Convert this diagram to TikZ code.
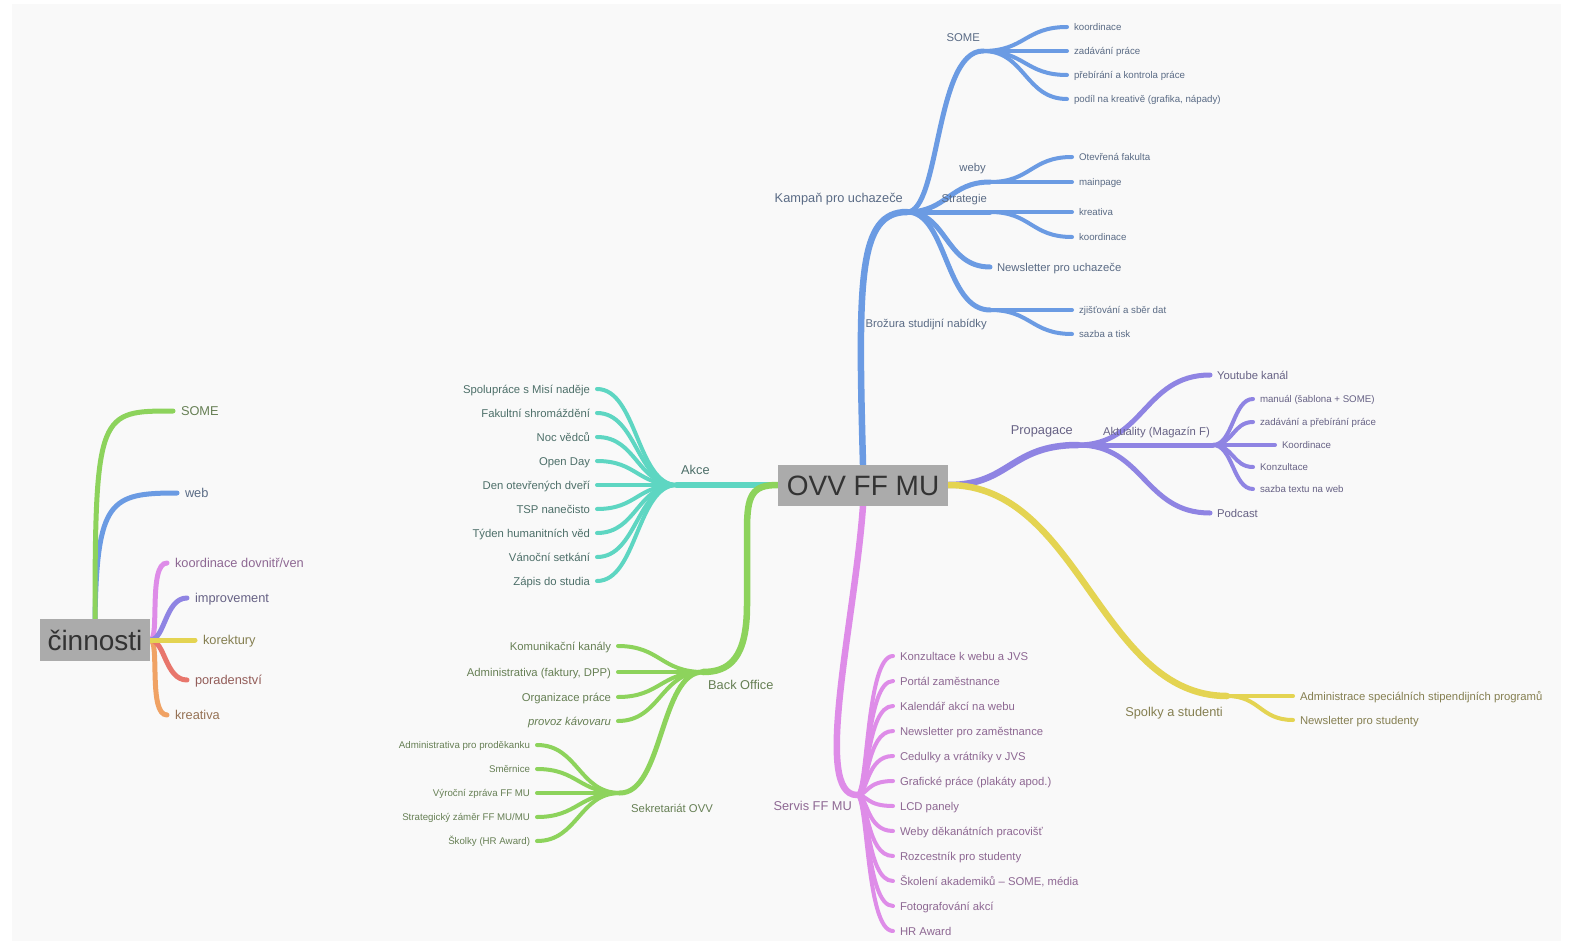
\documentclass[tikz,border=0pt]{standalone}
\usepackage{fontspec}
\setmainfont{Liberation Sans}
\usetikzlibrary{backgrounds}
\begin{document}
\begin{tikzpicture}[x=1pt, y=-1pt,
    trunk/.style={line width=6.5pt, line cap=round},
    twig/.style={line width=5pt, line cap=round},
    leafline/.style={line width=4pt, line cap=round},
    hub/.style={fill=hubgray, text=hubtext, font=\fontsize{28}{30}\selectfont,
        minimum height=41pt, inner xsep=9pt, inner ysep=0pt, text height=20pt, text depth=0pt},
    labone/.style={font=\fontsize{12.8}{14}\selectfont, inner sep=0pt},
    labtwo/.style={font=\fontsize{11.3}{13}\selectfont, inner sep=0pt},
    leafR/.style={anchor=west, font=\fontsize{11.3}{13}\selectfont, inner sep=0pt,
        outer xsep=7pt, text height=8.1pt, text depth=0pt},
    leafL/.style={leafR, anchor=east},
    smallR/.style={leafR, font=\fontsize{9.7}{11}\selectfont, text height=6.9pt},
    smallL/.style={smallR, anchor=east},
    bigR/.style={leafR, font=\fontsize{12.8}{14}\selectfont, text height=9.2pt, outer xsep=8pt},
  ]
  % -------- colours --------
  \definecolor{pagebg}{RGB}{249,249,249}
  \definecolor{hubgray}{RGB}{171,171,171}
  \definecolor{hubtext}{RGB}{51,51,51}
  \definecolor{kampc}{RGB}{107,155,227}
  \definecolor{akcec}{RGB}{94,214,194}
  \definecolor{backc}{RGB}{141,211,92}
  \definecolor{propc}{RGB}{143,132,227}
  \definecolor{servc}{RGB}{222,140,232}
  \definecolor{spolc}{RGB}{228,212,82}
  \definecolor{porc}{RGB}{232,118,108}
  \definecolor{krec}{RGB}{240,162,100}
  \colorlet{kampt}{kampc!45!black!80}
  \colorlet{akcet}{akcec!35!black!80}
  \colorlet{backt}{backc!45!black!80}
  \colorlet{propt}{propc!45!black!80}
  \colorlet{servt}{servc!55!black!85}
  \colorlet{spolt}{spolc!45!black!80}
  \colorlet{port}{porc!55!black!85}
  \colorlet{kret}{krec!55!black!85}

  \useasboundingbox (0,0) rectangle (1573,944);

  % ======== center ========
  \node[hub] (ovv) at (863,485) {OVV FF MU};

  % -------- Kampaň pro uchazeče --------
  \coordinate (kamp) at (907,212);
  \node[labone, kampt, anchor=base east] (kampl) at (903,202) {Kampaň pro uchazeče};
  \coordinate (some) at (983,51);
  \node[labtwo, kampt, anchor=base east] (somel) at (980,42) {SOME};
  \node[smallR, kampt] (some1) at (1067,27) {koordinace};
  \node[smallR, kampt] (some2) at (1067,51) {zadávání práce};
  \node[smallR, kampt] (some3) at (1067,75) {přebírání a kontrola práce};
  \node[smallR, kampt] (some4) at (1067,99) {podíl na kreativě (grafika, nápady)};
  \coordinate (weby) at (990,182);
  \node[labtwo, kampt, anchor=base east] (webyl) at (986,172) {weby};
  \node[smallR, kampt] (web1) at (1072,157) {Otevřená fakulta};
  \node[smallR, kampt] (web2) at (1072,182) {mainpage};
  \coordinate (strat) at (990,212);
  \node[labtwo, kampt, anchor=base east] (stratl) at (987,203) {Strategie};
  \node[smallR, kampt] (str1) at (1072,212) {kreativa};
  \node[smallR, kampt] (str2) at (1072,237) {koordinace};
  \node[leafR, kampt] (newsu) at (990,267) {Newsletter pro uchazeče};
  \coordinate (broz) at (990,310);
  \node[labtwo, kampt, anchor=base east] (brozl) at (987,327) {Brožura studijní nabídky};
  \node[smallR, kampt] (broz1) at (1072,310) {zjišťování a sběr dat};
  \node[smallR, kampt] (broz2) at (1072,334) {sazba a tisk};

  % -------- Akce --------
  \coordinate (akce) at (677,485);
  \node[labone, akcet, anchor=base west] (akcel) at (681,474) {Akce};
  \node[leafL, akcet] (akce1) at (597,389) {Spolupráce s Misí naděje};
  \node[leafL, akcet] (akce2) at (597,413) {Fakultní shromáždění};
  \node[leafL, akcet] (akce3) at (597,437) {Noc vědců};
  \node[leafL, akcet] (akce4) at (597,461) {Open Day};
  \node[leafL, akcet] (akce5) at (597,485) {Den otevřených dveří};
  \node[leafL, akcet] (akce6) at (597,509) {TSP nanečisto};
  \node[leafL, akcet] (akce7) at (597,533) {Týden humanitních věd};
  \node[leafL, akcet] (akce8) at (597,557) {Vánoční setkání};
  \node[leafL, akcet] (akce9) at (597,581) {Zápis do studia};

  % -------- Back Office --------
  \coordinate (back) at (703,672);
  \node[labone, backt, anchor=base west] (backl) at (708,689) {Back Office};
  \node[leafL, backt] (back1) at (618,646) {Komunikační kanály};
  \node[leafL, backt] (back2) at (618,672) {Administrativa (faktury, DPP)};
  \node[leafL, backt] (back3) at (618,697) {Organizace práce};
  \node[leafL, backt, font=\fontsize{11.3}{13}\selectfont\itshape] (back4) at (618,721) {provoz kávovaru};
  \coordinate (sekr) at (620,793);
  \node[labtwo, backt, anchor=base west] (sekrl) at (631,812) {Sekretariát OVV};
  \node[smallL, backt] (sekr1) at (537,745) {Administrativa pro proděkanku};
  \node[smallL, backt] (sekr2) at (537,769) {Směrnice};
  \node[smallL, backt] (sekr3) at (537,793) {Výroční zpráva FF MU};
  \node[smallL, backt] (sekr4) at (537,817) {Strategický záměr FF MU/MU};
  \node[smallL, backt] (sekr5) at (537,841) {Školky (HR Award)};

  % -------- Servis FF MU --------
  \coordinate (serv) at (857,795);
  \node[labone, servt, anchor=base east] (servl) at (852,810) {Servis FF MU};
  \node[leafR, servt] (serv1) at (893,656) {Konzultace k webu a JVS};
  \node[leafR, servt] (serv2) at (893,681) {Portál zaměstnance};
  \node[leafR, servt] (serv3) at (893,706) {Kalendář akcí na webu};
  \node[leafR, servt] (serv4) at (893,731) {Newsletter pro zaměstnance};
  \node[leafR, servt] (serv5) at (893,756) {Cedulky a vrátníky v JVS};
  \node[leafR, servt] (serv6) at (893,781) {Grafické práce (plakáty apod.)};
  \node[leafR, servt] (serv7) at (893,806) {LCD panely};
  \node[leafR, servt] (serv8) at (893,831) {Weby děkanátních pracovišť};
  \node[leafR, servt] (serv9) at (893,856) {Rozcestník pro studenty};
  \node[leafR, servt] (serv10) at (893,881) {Školení akademiků – SOME, média};
  \node[leafR, servt] (serv11) at (893,906) {Fotografování akcí};
  \node[leafR, servt] (serv12) at (893,931) {HR Award};

  % -------- Propagace --------
  \coordinate (prop) at (1078,445);
  \node[labone, propt, anchor=base east] (propl) at (1073,434) {Propagace};
  \node[leafR, propt] (yt) at (1210,375) {Youtube kanál};
  \coordinate (aktu) at (1213,445);
  \node[labtwo, propt, anchor=base east] (aktul) at (1210,435) {Aktuality (Magazín F)};
  \node[leafR, propt] (podc) at (1210,513) {Podcast};
  \node[smallR, propt] (aktu1) at (1253,399) {manuál (šablona + SOME)};
  \node[smallR, propt] (aktu2) at (1253,422) {zadávání a přebírání práce};
  \node[smallR, propt] (aktu3) at (1275,445) {Koordinace};
  \node[smallR, propt] (aktu4) at (1253,467) {Konzultace};
  \node[smallR, propt] (aktu5) at (1253,489) {sazba textu na web};

  % -------- Spolky a studenti --------
  \coordinate (spol) at (1227,696);
  \node[labone, spolt, anchor=base east] (spoll) at (1223,716) {Spolky a studenti};
  \node[leafR, spolt] (spol1) at (1293,696) {Administrace speciálních stipendijních programů};
  \node[leafR, spolt] (spol2) at (1293,720) {Newsletter pro studenty};

  % ======== činnosti ========
  \node[hub, minimum height=42pt, inner xsep=7.5pt] (cin) at (95,640) {činnosti};
  \node[bigR, backt] (cin1) at (173,411) {SOME};
  \node[bigR, kampt] (cin2) at (177,493) {web};
  \node[bigR, servt] (cin3) at (167,563) {koordinace dovnitř/ven};
  \node[bigR, propt] (cin4) at (187,598) {improvement};
  \node[bigR, spolt] (cin5) at (195,640) {korektury};
  \node[bigR, port] (cin6) at (187,680) {poradenství};
  \node[bigR, kret] (cin7) at (167,715) {kreativa};

  % ======== branches ========
  \begin{scope}[on background layer]
    \fill[pagebg] (12,4) rectangle (1561,941);

    % Kampaň
    \draw[trunk, kampc] (ovv.north) .. controls (858,280) and (858,212) .. (kamp);
    \draw[twig, kampc] (kamp) .. controls (940,212) and (935,51) .. (some);
    \draw[leafline, kampc] (some) .. controls +(42,0) and +(-42,0) .. (some1.west);
    \draw[leafline, kampc] (some) -- (some2.west);
    \draw[leafline, kampc] (some) .. controls +(42,0) and +(-42,0) .. (some3.west);
    \draw[leafline, kampc] (some) .. controls +(42,0) and +(-42,0) .. (some4.west);
    \draw[twig, kampc] (kamp) .. controls +(40,0) and +(-40,0) .. (weby);
    \draw[twig, kampc] (kamp) -- (strat);
    \draw[twig, kampc] (kamp) .. controls +(40,0) and +(-45,0) .. (newsu.west);
    \draw[twig, kampc] (kamp) .. controls +(40,0) and +(-45,0) .. (broz);
    \draw[leafline, kampc] (weby) .. controls +(41,0) and +(-41,0) .. (web1.west);
    \draw[leafline, kampc] (weby) -- (web2.west);
    \draw[leafline, kampc] (strat) -- (str1.west);
    \draw[leafline, kampc] (strat) .. controls +(41,0) and +(-41,0) .. (str2.west);
    \draw[leafline, kampc] (broz) -- (broz1.west);
    \draw[leafline, kampc] (broz) .. controls +(41,0) and +(-41,0) .. (broz2.west);

    % Akce
    \draw[trunk, akcec] (ovv.west) -- (akce);
    \draw[leafline, akcec] (akce) .. controls +(-40,0) and +(40,0) .. (akce1.east);
    \draw[leafline, akcec] (akce) .. controls +(-40,0) and +(40,0) .. (akce2.east);
    \draw[leafline, akcec] (akce) .. controls +(-40,0) and +(40,0) .. (akce3.east);
    \draw[leafline, akcec] (akce) .. controls +(-40,0) and +(40,0) .. (akce4.east);
    \draw[leafline, akcec] (akce) -- (akce5.east);
    \draw[leafline, akcec] (akce) .. controls +(-40,0) and +(40,0) .. (akce6.east);
    \draw[leafline, akcec] (akce) .. controls +(-40,0) and +(40,0) .. (akce7.east);
    \draw[leafline, akcec] (akce) .. controls +(-40,0) and +(40,0) .. (akce8.east);
    \draw[leafline, akcec] (akce) .. controls +(-40,0) and +(40,0) .. (akce9.east);

    % Back Office
    \draw[trunk, backc] (ovv.west) .. controls (752,485) and (747,495) .. (747,530)
        -- (747,605) .. controls (747,660) and (728,672) .. (back);
    \draw[leafline, backc] (back) .. controls +(-42,0) and +(42,0) .. (back1.east);
    \draw[leafline, backc] (back) -- (back2.east);
    \draw[leafline, backc] (back) .. controls +(-42,0) and +(42,0) .. (back3.east);
    \draw[leafline, backc] (back) .. controls +(-42,0) and +(42,0) .. (back4.east);
    \draw[twig, backc] (back) .. controls (660,672) and (663,793) .. (sekr);
    \draw[leafline, backc] (sekr) .. controls +(-41,0) and +(41,0) .. (sekr1.east);
    \draw[leafline, backc] (sekr) .. controls +(-41,0) and +(41,0) .. (sekr2.east);
    \draw[leafline, backc] (sekr) -- (sekr3.east);
    \draw[leafline, backc] (sekr) .. controls +(-41,0) and +(41,0) .. (sekr4.east);
    \draw[leafline, backc] (sekr) .. controls +(-41,0) and +(41,0) .. (sekr5.east);

    % Servis FF MU
    \draw[trunk, servc] (ovv.south) .. controls (855,620) and (812,795) .. (serv);
    \draw[leafline, servc] (serv) .. controls +(11,0) and +(-27,0) .. (serv1.west);
    \draw[leafline, servc] (serv) .. controls +(11,0) and +(-27,0) .. (serv2.west);
    \draw[leafline, servc] (serv) .. controls +(11,0) and +(-27,0) .. (serv3.west);
    \draw[leafline, servc] (serv) .. controls +(11,0) and +(-27,0) .. (serv4.west);
    \draw[leafline, servc] (serv) .. controls +(11,0) and +(-27,0) .. (serv5.west);
    \draw[leafline, servc] (serv) .. controls +(11,0) and +(-27,0) .. (serv6.west);
    \draw[leafline, servc] (serv) .. controls +(11,0) and +(-27,0) .. (serv7.west);
    \draw[leafline, servc] (serv) .. controls +(11,0) and +(-27,0) .. (serv8.west);
    \draw[leafline, servc] (serv) .. controls +(11,0) and +(-27,0) .. (serv9.west);
    \draw[leafline, servc] (serv) .. controls +(11,0) and +(-27,0) .. (serv10.west);
    \draw[leafline, servc] (serv) .. controls +(11,0) and +(-27,0) .. (serv11.west);
    \draw[leafline, servc] (serv) .. controls +(11,0) and +(-27,0) .. (serv12.west);

    % Propagace
    \draw[trunk, propc] (ovv.east) .. controls (1010,485) and (1010,445) .. (prop);
    \draw[twig, propc] (prop) .. controls +(66,0) and +(-66,0) .. (yt.west);
    \draw[twig, propc] (prop) -- (aktu);
    \draw[twig, propc] (prop) .. controls +(66,0) and +(-66,0) .. (podc.west);
    \draw[leafline, propc] (aktu) .. controls +(20,0) and +(-20,0) .. (aktu1.west);
    \draw[leafline, propc] (aktu) .. controls +(20,0) and +(-20,0) .. (aktu2.west);
    \draw[leafline, propc] (aktu) -- (aktu3.west);
    \draw[leafline, propc] (aktu) .. controls +(20,0) and +(-20,0) .. (aktu4.west);
    \draw[leafline, propc] (aktu) .. controls +(20,0) and +(-20,0) .. (aktu5.west);

    % Spolky a studenti
    \draw[trunk, spolc] (ovv.east) .. controls (1080,485) and (1100,696) .. (spol);
    \draw[leafline, spolc] (spol) -- (spol1.west);
    \draw[leafline, spolc] (spol) .. controls +(33,0) and +(-33,0) .. (spol2.west);

    % činnosti
    \draw[twig, kampc] (cin.north) .. controls (97,500) and (110,493) .. (cin2.west);
    \draw[twig, backc] (cin.north) .. controls (95,411) and (100,411) .. (cin1.west);
    \draw[twig, krec] (cin.east) .. controls (160,640) and (148,715) .. (cin7.west);
    \draw[twig, porc] (cin.east) .. controls (165,640) and (165,680) .. (cin6.west);
    \draw[twig, servc] (cin.east) .. controls (160,640) and (148,563) .. (cin3.west);
    \draw[twig, propc] (cin.east) .. controls (165,640) and (165,598) .. (cin4.west);
    \draw[twig, spolc] (cin.east) -- (cin5.west);
  \end{scope}
\end{tikzpicture}
\end{document}
